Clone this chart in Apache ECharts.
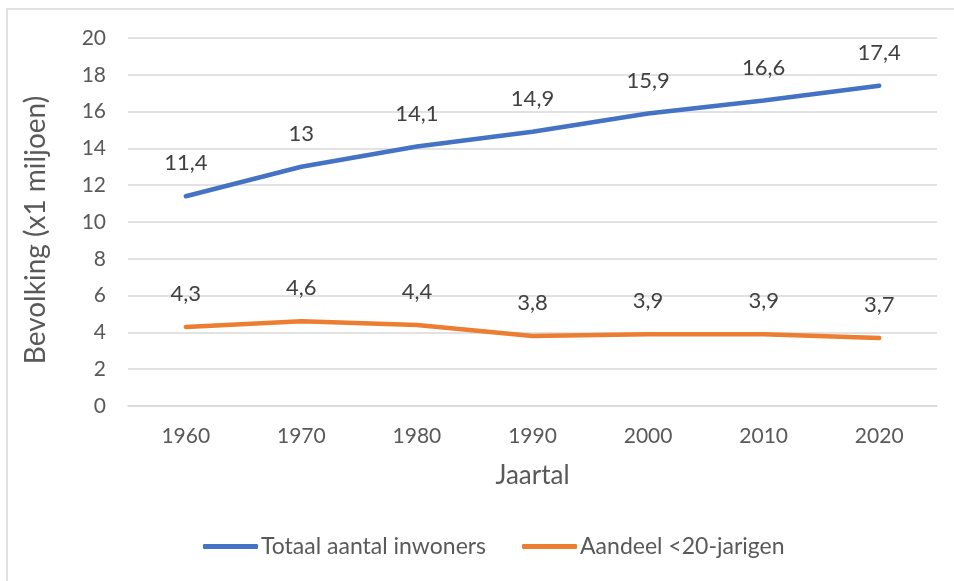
<!DOCTYPE html>
<html>
<head>
<meta charset="utf-8">
<script src="https://cdn.jsdelivr.net/npm/echarts@6/dist/echarts.min.js"></script>
<style>html,body{margin:0;padding:0;background:#fff}#c{width:954px;height:581px}</style>
</head>
<body>
<div id="c"></div>
<script>
const years = ['1960','1970','1980','1990','2000','2010','2020'];
const totaal = [11.4, 13, 14.1, 14.9, 15.9, 16.6, 17.4];
const jongeren = [4.3, 4.6, 4.4, 3.8, 3.9, 3.9, 3.7];
const seriesNames = ['Totaal aantal inwoners', 'Aandeel <20-jarigen'];
const yTitle = 'Bevolking (x1 miljoen)';
const xTitle = 'Jaartal';
const FONT = 'Lato, "Open Sans", sans-serif';

const chart = echarts.init(document.getElementById('c'), null, {renderer: 'canvas'});
const fmt = v => String(v).replace('.', ',');
const lbl = {
  show: true, position: 'top', distance: 22,
  color: '#404040', fontSize: 22, fontFamily: FONT,
  formatter: p => fmt(p.value)
};
chart.setOption({
  animation: false,
  textStyle: {fontFamily: FONT},
  graphic: [{
    type: 'rect', shape: {x: 7, y: 9, width: 1000, height: 1000},
    style: {fill: 'none', stroke: '#d9d9d9', lineWidth: 1.5}, silent: true
  }, {
    type: 'text', x: 36, y: 230, rotation: Math.PI / 2, silent: true,
    style: {text: yTitle, fill: '#595959', font: '28px ' + FONT, align: 'center', verticalAlign: 'middle'}
  }],
  grid: {left: 128, right: 17, top: 38, bottom: 175},
  legend: {
    left: 203, top: 535, padding: 0, itemWidth: 55, itemHeight: 5, itemGap: 36,
    icon: 'roundRect',
    textStyle: {color: '#595959', fontSize: 23, fontFamily: FONT, padding: [0, 0, 0, -2]},
    data: seriesNames
  },
  xAxis: {
    type: 'category', data: years, boundaryGap: true,
    name: xTitle, nameLocation: 'middle', nameGap: 57,
    nameTextStyle: {color: '#595959', fontSize: 26, fontFamily: FONT},
    axisLine: {show: true, lineStyle: {color: '#d9d9d9', width: 1.5}},
    axisTick: {show: false},
    axisLabel: {color: '#595959', fontSize: 21, fontFamily: FONT, margin: 20}
  },
  yAxis: {
    type: 'value', min: 0, max: 20, interval: 2,
    axisLine: {show: false}, axisTick: {show: false},
    axisLabel: {color: '#595959', fontSize: 21, fontFamily: FONT, margin: 22},
    splitLine: {lineStyle: {color: '#d9d9d9', width: 1.5}}
  },
  series: [
    {name: seriesNames[0], type: 'line', data: totaal, symbol: 'circle', symbolSize: 0.01, showSymbol: true,
     lineStyle: {color: '#4472C4', width: 4.5, cap: 'round'}, itemStyle: {color: '#4472C4'},
     label: lbl},
    {name: seriesNames[1], type: 'line', data: jongeren, symbol: 'circle', symbolSize: 0.01, showSymbol: true,
     lineStyle: {color: '#ED7D31', width: 4.5, cap: 'round'}, itemStyle: {color: '#ED7D31'},
     label: lbl}
  ]
});
</script>
</body>
</html>
